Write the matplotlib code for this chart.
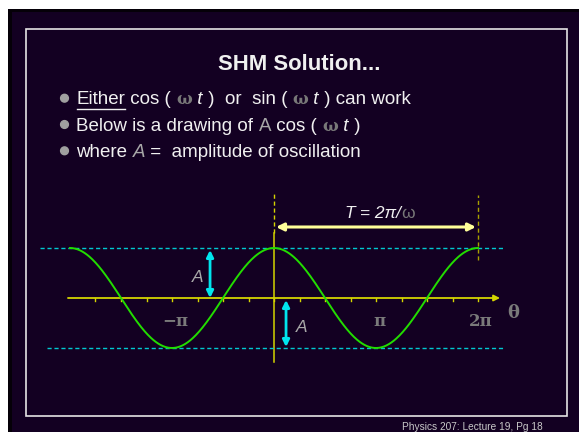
import numpy as np
import matplotlib.pyplot as plt
from matplotlib.patches import Rectangle, Circle

plt.rcParams["font.family"] = ["Liberation Sans", "DejaVu Sans"]

W, H = 579, 432
BG = "#130022"
WHITE = "#f0f0f0"
GREY = "#787878"
LIGHT_GREY = "#a8a8a8"
YELLOW = "#d4d400"
PALE_YELLOW = "#ffff99"
CYAN = "#00e5ee"
DASH_CYAN = "#00c8d0"
GREEN = "#22dd00"

# graph values, x in units of pi, y in units of A
amplitude = 1.0
period = 2.0
theta_start, theta_end = -2.0, 2.0
tick_positions = [-1.75, -1.5, -1.25, -1.0, -0.75, -0.5, -0.25, 0.0,
                  0.25, 0.5, 0.75, 1.0, 1.25, 1.5, 1.75, 2.0]
tick_label_positions = [-1.0, 1.0, 2.0]
tick_labels = ["−π", "π", "2π"]

title = "SHM Solution..."
footer = "Physics 207: Lecture 19, Pg 18"
# (text, colour, style, underline); "sym" marks the grey symbol-font omega
bullet_lines = [
    [("Either", WHITE, "normal", True), (" cos ( ", WHITE, "normal", False),
     ("ω", GREY, "sym", False), (" t", WHITE, "italic", False),
     (" )  or  sin ( ", WHITE, "normal", False), ("ω", GREY, "sym", False),
     (" t", WHITE, "italic", False), (" ) can work", WHITE, "normal", False)],
    [("Below is a drawing of ", WHITE, "normal", False), ("A", LIGHT_GREY, "normal", False),
     (" cos ( ", WHITE, "normal", False), ("ω", GREY, "sym", False),
     (" t", WHITE, "italic", False), (" )", WHITE, "normal", False)],
    [("where ", WHITE, "normal", False), ("A", LIGHT_GREY, "italic", False),
     (" =  amplitude of oscillation", WHITE, "normal", False)],
]

fig = plt.figure(figsize=(W / 100, H / 100), dpi=100, facecolor="white")

# slide layer in pixel units
slide = fig.add_axes([0, 0, 1, 1])
slide.set_xlim(0, W)
slide.set_ylim(H, 0)
slide.axis("off")
slide.add_patch(Rectangle((8, 9), W - 8, H - 9, facecolor="#050008", edgecolor="none"))
slide.add_patch(Rectangle((12, 12), W - 12, H - 12, facecolor=BG, edgecolor="none"))
slide.add_patch(Rectangle((26, 29), 541, 387, facecolor="none", edgecolor="#e4e4e4", lw=1.2))

slide.text(299, 70, title, fontsize=15.9, fontweight="bold", color=WHITE,
           ha="center", va="baseline")
slide.text(472, 430, footer, fontsize=7.3, color="#c8c8c8", ha="center", va="baseline")

renderer = fig.canvas.get_renderer()


def text_kw(style, size):
    if style == "sym":
        return dict(fontsize=size, family="DejaVu Serif", fontweight="bold")
    return dict(fontsize=size, style=style)


def text_width(s, **kw):
    # bars on both sides so leading/trailing spaces are counted
    t1 = slide.text(0, 0, "|" + s + "|", **kw)
    t2 = slide.text(0, 0, "||", **kw)
    w = t1.get_window_extent(renderer).width - t2.get_window_extent(renderer).width
    t1.remove()
    t2.remove()
    return w


bullet_size = 13.5
for i, pieces in enumerate(bullet_lines):
    y = 104.5 + i * 26.3
    slide.add_patch(Circle((64.5, y - 6.3), 3.9, color="#a0a0a0"))
    x = 76.5
    for s, color, style, underline in pieces:
        kw = text_kw(style, bullet_size - (1.5 if style == "sym" else 0))
        slide.text(x, y, s, color=color, ha="left", va="baseline", **kw)
        w = text_width(s, **kw)
        if underline:
            slide.plot([x, x + w], [y + 4, y + 4], color=color, lw=1)
        x += w

# graph layer: x = theta / pi, y = displacement / A
ax = fig.add_axes([0, 0, 1, 1])
ax.set_xlim(-274 / 102, 305 / 102)
ax.set_ylim(-134 / 50, 298 / 50)
ax.axis("off")

theta = np.linspace(theta_start, theta_end, 500)
ax.plot(theta, amplitude * np.cos(np.pi * theta), color=GREEN, lw=1.4, zorder=4)

# theta axis with arrow
ax.annotate("", xy=(2.216, 0), xytext=(-2.02, 0),
            arrowprops=dict(arrowstyle="-|>", color=YELLOW, lw=1.3,
                            mutation_scale=9, shrinkA=0, shrinkB=0))
for tp in tick_positions:
    ax.plot([tp, tp], [0, -0.06], color=YELLOW, lw=1)
for tp, lab in zip(tick_label_positions, tick_labels):
    ax.text(tp + 0.03, -0.48, lab, fontsize=12, fontweight="bold", color="#7a7a7a",
            family="DejaVu Serif", ha="center", va="center")
ax.text(2.35, -0.3, "θ", fontsize=13, fontweight="bold", color="#7a7a7a",
        family="DejaVu Serif", ha="center", va="center")

# vertical axis at theta = 0, dashed above the peak
ax.plot([0, 0], [-1.28, 1.3], color=YELLOW, lw=1.1)
ax.plot([0, 0], [1.3, 2.1], color=YELLOW, lw=1, ls=(0, (3, 2)))
ax.plot([period, period], [0.76, 2.06], color="#a8a000", lw=1, ls=(0, (3, 2)))

# period arrow
ax.annotate("", xy=(period - 0.02, 1.42), xytext=(0.02, 1.42),
            arrowprops=dict(arrowstyle="<|-|>", color=PALE_YELLOW, lw=2.2,
                            mutation_scale=11, shrinkA=0, shrinkB=0))
t_label = [("T", WHITE, "italic"), (" = 2π/", WHITE, "italic"), ("ω", GREY, "normal")]
x = 0.69
for s, color, style in t_label:
    ax.text(x, 1.6, s, fontsize=12.5, style=style, color=color, ha="left", va="baseline")
    x += text_width(s, fontsize=12.5, style=style) / 102

# amplitude levels
ax.plot([-2.294, 2.265], [amplitude, amplitude], color=DASH_CYAN, lw=1, ls=(0, (3, 2)))
ax.plot([-2.225, 2.265], [-amplitude, -amplitude], color=DASH_CYAN, lw=1, ls=(0, (3, 2)))

# amplitude arrows
ax.annotate("", xy=(-0.627, 0.0), xytext=(-0.627, amplitude - 0.04),
            arrowprops=dict(arrowstyle="<|-|>", color=CYAN, lw=2,
                            mutation_scale=10, shrinkA=0, shrinkB=0))
ax.annotate("", xy=(0.118, -amplitude + 0.02), xytext=(0.118, -0.04),
            arrowprops=dict(arrowstyle="<|-|>", color=CYAN, lw=2,
                            mutation_scale=10, shrinkA=0, shrinkB=0))
ax.text(-0.745, 0.42, "A", fontsize=12.5, style="italic", color=LIGHT_GREY,
        ha="center", va="center")
ax.text(0.275, -0.6, "A", fontsize=12.5, style="italic", color=LIGHT_GREY,
        ha="center", va="center")

fig.savefig("out.png", dpi=100, facecolor="white")
